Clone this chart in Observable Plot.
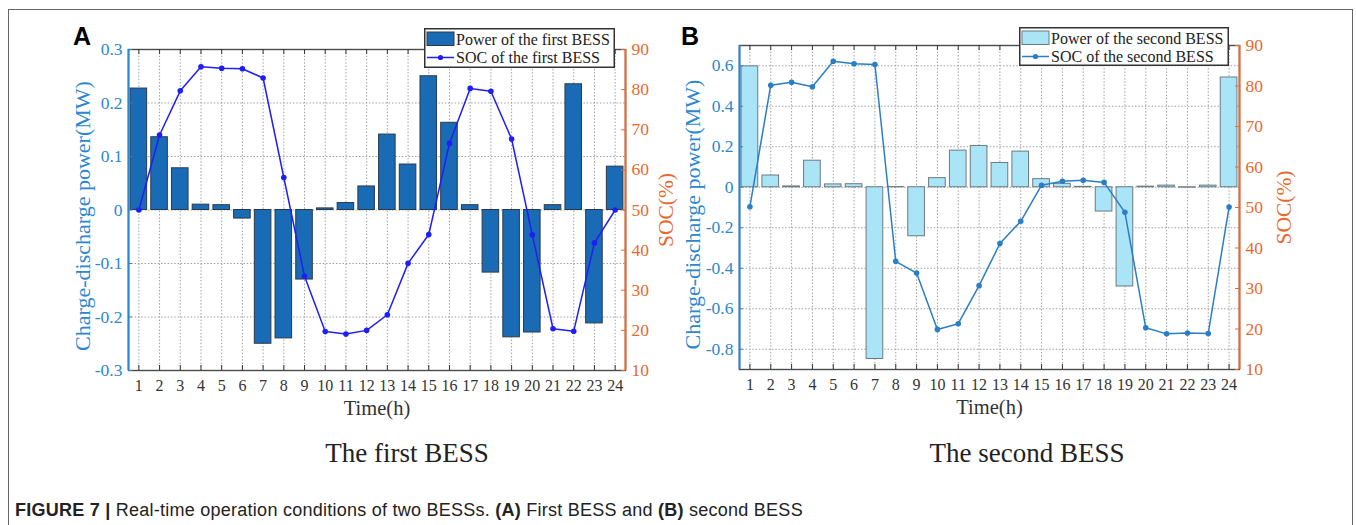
<!DOCTYPE html>
<html>
<head>
<meta charset="utf-8">
<script src="https://cdn.jsdelivr.net/npm/d3@7"></script>
<script src="https://cdn.jsdelivr.net/npm/@observablehq/plot@0.6"></script>
<style>
  html, body { margin: 0; padding: 0; background: #fff; }
  #fig { position: relative; width: 1356px; height: 525px; overflow: hidden; background: #fff; }
  .abs { position: absolute; }
  .serif { font-family: 'Liberation Serif', 'Times New Roman', serif; color: #222; }
  .sans { font-family: 'Liberation Sans', Arial, sans-serif; }
</style>
</head>
<body>
<div id="fig">
  <div class="abs" style="left:8px;top:9px;width:1343px;height:540px;border:1px solid #666;border-bottom:none;"></div>
  <div id="pa" class="abs" style="left:0;top:0;width:678px;height:420px;"></div>
  <div id="pb" class="abs" style="left:678px;top:0;width:678px;height:420px;"></div>
  <div class="abs sans" style="left:73px;top:22px;font-size:25px;font-weight:bold;color:#000;">A</div>
  <div class="abs sans" style="left:681px;top:22px;font-size:25px;font-weight:bold;color:#000;">B</div>
  <div id="lega" class="abs" style="left:424px;top:28px;"></div>
  <div id="legb" class="abs" style="left:1019px;top:27px;"></div>
  <div class="abs serif" style="left:257px;top:438px;width:300px;text-align:center;font-size:27px;">The first BESS</div>
  <div class="abs serif" style="left:877px;top:438px;width:300px;text-align:center;font-size:27px;">The second BESS</div>
  <div class="abs sans" style="left:15px;top:500px;font-size:18px;letter-spacing:0.25px;color:#222;white-space:nowrap;"><b>FIGURE 7 |</b> Real-time operation conditions of two BESSs. <b>(A)</b> First BESS and <b>(B)</b> second BESS</div>
</div>
<script>
// ---- data ----
const hours = [1,2,3,4,5,6,7,8,9,10,11,12,13,14,15,16,17,18,19,20,21,22,23,24];
const powerA = [0.227, 0.136, 0.078, 0.010, 0.009, -0.016, -0.250, -0.240, -0.130, 0.003, 0.013, 0.044,
                0.141, 0.085, 0.250, 0.163, 0.009, -0.117, -0.238, -0.229, 0.009, 0.235, -0.212, 0.081];
const socA = [50, 68.7, 79.7, 85.7, 85.3, 85.2, 82.9, 58.1, 33.5, 19.7, 19.1, 20.0,
              23.9, 36.7, 43.9, 66.6, 80.3, 79.6, 67.7, 43.8, 20.4, 19.8, 41.8, 50];
const powerB = [0.597, 0.058, 0.004, 0.131, 0.014, 0.015, -0.848, 0.001, -0.242, 0.045, 0.181, 0.204,
                0.120, 0.176, 0.040, 0.017, 0.002, -0.120, -0.490, 0.003, 0.008, -0.002, 0.008, 0.542];
const socB = [50.2, 80.2, 80.9, 79.8, 86.1, 85.5, 85.3, 36.7, 33.8, 19.9, 21.3, 30.7,
              41.1, 46.6, 55.5, 56.5, 56.7, 56.2, 48.8, 20.3, 18.8, 19.0, 18.9, 50.1];
const powerTicksA = [-0.3, -0.2, -0.1, 0, 0.1, 0.2, 0.3];
const powerTicksB = [-0.8, -0.6, -0.4, -0.2, 0, 0.2, 0.4, 0.6];
const socTicks = [10, 20, 30, 40, 50, 60, 70, 80, 90];
const labelsA = {bar: "Power of the first BESS", line: "SOC of the first BESS"};
const labelsB = {bar: "Power of the second BESS", line: "SOC of the second BESS"};

// ---- style ----
const SERIF = "'Liberation Serif', 'Times New Roman', serif";
const BLUE = "#2b87cf";
const ORANGE = "#e8692e";
const GRID = "#a0a0a0";
const X_DOMAIN = [0.5, 24.5];
const HALF_BAR = 0.4;

function fmtPow(d) { return d === 0 ? "0" : d.toFixed(1); }

function panel(o) {
  const plotW = o.W - o.mL - o.mR, plotH = o.H - o.mT - o.mB;
  const toY = o.socToY, toSoc = o.yToSoc;
  const hx = (d, i) => hours[i];
  return Plot.plot({
    width: o.W, height: o.H,
    marginTop: o.mT, marginBottom: o.mB, marginLeft: o.mL, marginRight: o.mR,
    style: {fontFamily: SERIF, background: "transparent", overflow: "visible"},
    x: {type: "linear", domain: X_DOMAIN},
    y: {domain: o.yDomain},
    marks: [
      Plot.gridX(hours, {stroke: GRID, strokeOpacity: 1, strokeDasharray: "1.5,1.8"}),
      Plot.gridY(o.yTicks, {stroke: GRID, strokeOpacity: 1, strokeDasharray: "1.5,1.8"}),
      Plot.rectY(o.power, {x1: (d, i) => hours[i] - HALF_BAR, x2: (d, i) => hours[i] + HALF_BAR, y1: 0, y2: d => d,
                           fill: o.barFill, stroke: o.barStroke, strokeWidth: 1}),
      Plot.lineY(o.soc, {x: hx, y: toY, stroke: o.lineColor, strokeWidth: 1.5}),
      Plot.dot(o.soc, {x: hx, y: toY, r: 2.8, fill: o.lineColor, stroke: "none"}),
      Plot.frame({stroke: "#4a4a4a", strokeWidth: 1.4}),
      Plot.ruleX([X_DOMAIN[0]], {stroke: BLUE, strokeWidth: 2}),
      Plot.ruleX([X_DOMAIN[1]], {stroke: ORANGE, strokeWidth: 2}),
      // inward ticks
      Plot.ruleX(hours, {insetTop: plotH - 5, stroke: "#333"}),
      Plot.ruleX(hours, {insetBottom: plotH - 5, stroke: "#333"}),
      Plot.ruleY(o.yTicks, {insetRight: plotW - 4, stroke: BLUE}),
      Plot.ruleY(socTicks.map(toY), {insetLeft: plotW - 4, stroke: ORANGE}),
      // axes
      Plot.axisX(hours, {anchor: "bottom", tickSize: 0, tickPadding: 9, fontSize: 16, color: "#333",
                         tickFormat: d => String(d), label: null}),
      Plot.axisY(o.yTicks, {anchor: "left", tickSize: 0, tickPadding: 6, fontSize: 17.5, color: BLUE, tickFormat: fmtPow, label: null}),
      Plot.axisY(socTicks.map(toY), {anchor: "right", tickSize: 0, tickPadding: 6, fontSize: 17.5, color: ORANGE,
                                      tickFormat: d => String(Math.round(toSoc(d))), label: null}),
      Plot.text(["Charge-discharge power(MW)"], {text: d => d, frameAnchor: "left", dx: o.ylDx, dy: o.ylDy, rotate: -90,
                                                  textAnchor: "middle", lineAnchor: "middle", fill: BLUE, fontSize: 22}),
      Plot.text(["SOC(%)"], {text: d => d, frameAnchor: "right", dx: o.yrDx, dy: 0, rotate: -90,
                             textAnchor: "middle", lineAnchor: "middle", fill: ORANGE, fontSize: 21.5}),
      Plot.text(["Time(h)"], {text: d => d, frameAnchor: "bottom", dy: 38, textAnchor: "middle", lineAnchor: "middle",
                              fill: "#333", fontSize: 20.5})
    ]
  });
}

document.getElementById("pa").append(panel({
  W: 678, H: 420, mT: 49, mB: 50, mL: 128, mR: 53,
  power: powerA, soc: socA, yDomain: [-0.3, 0.3], yTicks: powerTicksA,
  socToY: s => (s - 50) * 0.3 / 40, yToSoc: p => 50 + p * 40 / 0.3,
  barFill: "#1a6bb6", barStroke: "#2c3a48", lineColor: "#1f1ff5",
  ylDx: -46, ylDy: 6, yrDx: 41
}));

document.getElementById("pb").append(panel({
  W: 678, H: 420, mT: 45, mB: 51, mL: 61, mR: 117,
  power: powerB, soc: socB, yDomain: [-0.9, 0.7], yTicks: powerTicksB,
  socToY: s => (s - 55) / 50, yToSoc: p => 55 + p * 50,
  barFill: "#a9e5f7", barStroke: "#6c7a80", lineColor: "#2b7ec6",
  ylDx: -47, ylDy: 7, yrDx: 45
}));

// ---- legends ----
function legend(el, w, h, labels, barFill, barStroke, lineColor) {
  const svg = d3.create("svg").attr("width", w).attr("height", h).style("display", "block");
  svg.append("rect").attr("x", 0.75).attr("y", 0.75).attr("width", w - 1.5).attr("height", h - 1.5)
    .attr("fill", "#fff").attr("stroke", "#333").attr("stroke-width", 1.5);
  svg.append("rect").attr("x", 3).attr("y", 4).attr("width", 27).attr("height", 13.5)
    .attr("fill", barFill).attr("stroke", barStroke).attr("stroke-width", 1);
  svg.append("line").attr("x1", 3).attr("x2", 30).attr("y1", 29.5).attr("y2", 29.5)
    .attr("stroke", lineColor).attr("stroke-width", 1.5);
  svg.append("circle").attr("cx", 16.5).attr("cy", 29.5).attr("r", 2.6).attr("fill", lineColor);
  svg.append("text").attr("x", 32).attr("y", 11).attr("dy", "0.35em").text(labels.bar)
    .attr("font-family", SERIF).attr("font-size", 16).attr("fill", "#222");
  svg.append("text").attr("x", 32).attr("y", 29.5).attr("dy", "0.35em").text(labels.line)
    .attr("font-family", SERIF).attr("font-size", 16).attr("fill", "#222");
  document.getElementById(el).append(svg.node());
}
legend("lega", 191, 40, labelsA, "#1a6bb6", "#2c3a48", "#1f1ff5");
legend("legb", 210, 39, labelsB, "#a9e5f7", "#6c7a80", "#2b7ec6");
</script>
</body>
</html>
